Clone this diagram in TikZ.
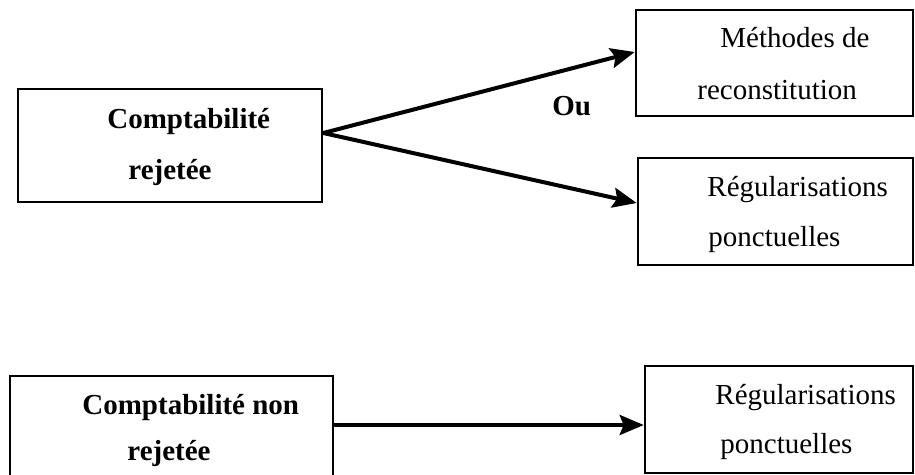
\documentclass[tikz,border=0pt]{standalone}
\usepackage{fontspec}
\setmainfont{Liberation Serif}
\usetikzlibrary{arrows.meta}
\tikzstyle{box} = [draw, line width=1.3pt, rectangle, inner sep=0pt]
\tikzstyle{arrow} = [line width=2pt, -{Stealth[length=12pt,width=10pt,inset=2pt]}]
\tikzstyle{txt} = [anchor=base west, inner sep=0pt]
\tikzstyle{btxt} = [txt, font=\fontsize{14.5}{18}\selectfont\bfseries]

\begin{document}
\begin{tikzpicture}[x=0.5pt,y=-0.5pt,every node/.style={font=\fontsize{14.5}{18}\selectfont}]
    \clip (0,0) rectangle (915,475);
    % cadres
    \node[box, minimum width=152pt, minimum height=56.5pt] (rej) at (170,145.5) {};
    \node[box, minimum width=138.5pt, minimum height=53pt] (meth) at (774.5,63) {};
    \node[box, minimum width=137.5pt, minimum height=53.5pt] (regA) at (775.5,211.5) {};
    \node[box, minimum width=161.5pt, minimum height=62pt] (nonrej) at (171.5,438) {};
    \node[box, minimum width=134pt, minimum height=53.5pt] (regB) at (779,419.5) {};
    % textes
    \node[btxt] (rejA) at (107,129) {Comptabilité};
    \node[btxt] (rejB) at (128,180) {rejetée};
    \node[txt] (methA) at (720,48) {Méthodes de};
    \node[txt] (methB) at (697,100) {reconstitution};
    \node[txt] (regAa) at (707,197) {Régularisations};
    \node[txt] (regAb) at (708,247) {ponctuelles};
    \node[btxt] (nonrejA) at (82,415) {Comptabilité non};
    \node[btxt] (nonrejB) at (127,460) {rejetée};
    \node[txt] (regBa) at (715,405) {Régularisations};
    \node[txt] (regBb) at (720,453) {ponctuelles};
    \node[btxt] (ou) at (552,116) {Ou};
    % fleches
    \draw[arrow] ([yshift=6.25pt]rej.east) -- ([yshift=5.5pt]meth.west);
    \draw[arrow] ([yshift=6.25pt]rej.east) -- ([yshift=4.25pt]regA.west);
    \draw[arrow] ([yshift=6.5pt]nonrej.east) -- ([yshift=-2.75pt]regB.west);
\end{tikzpicture}
\end{document}
